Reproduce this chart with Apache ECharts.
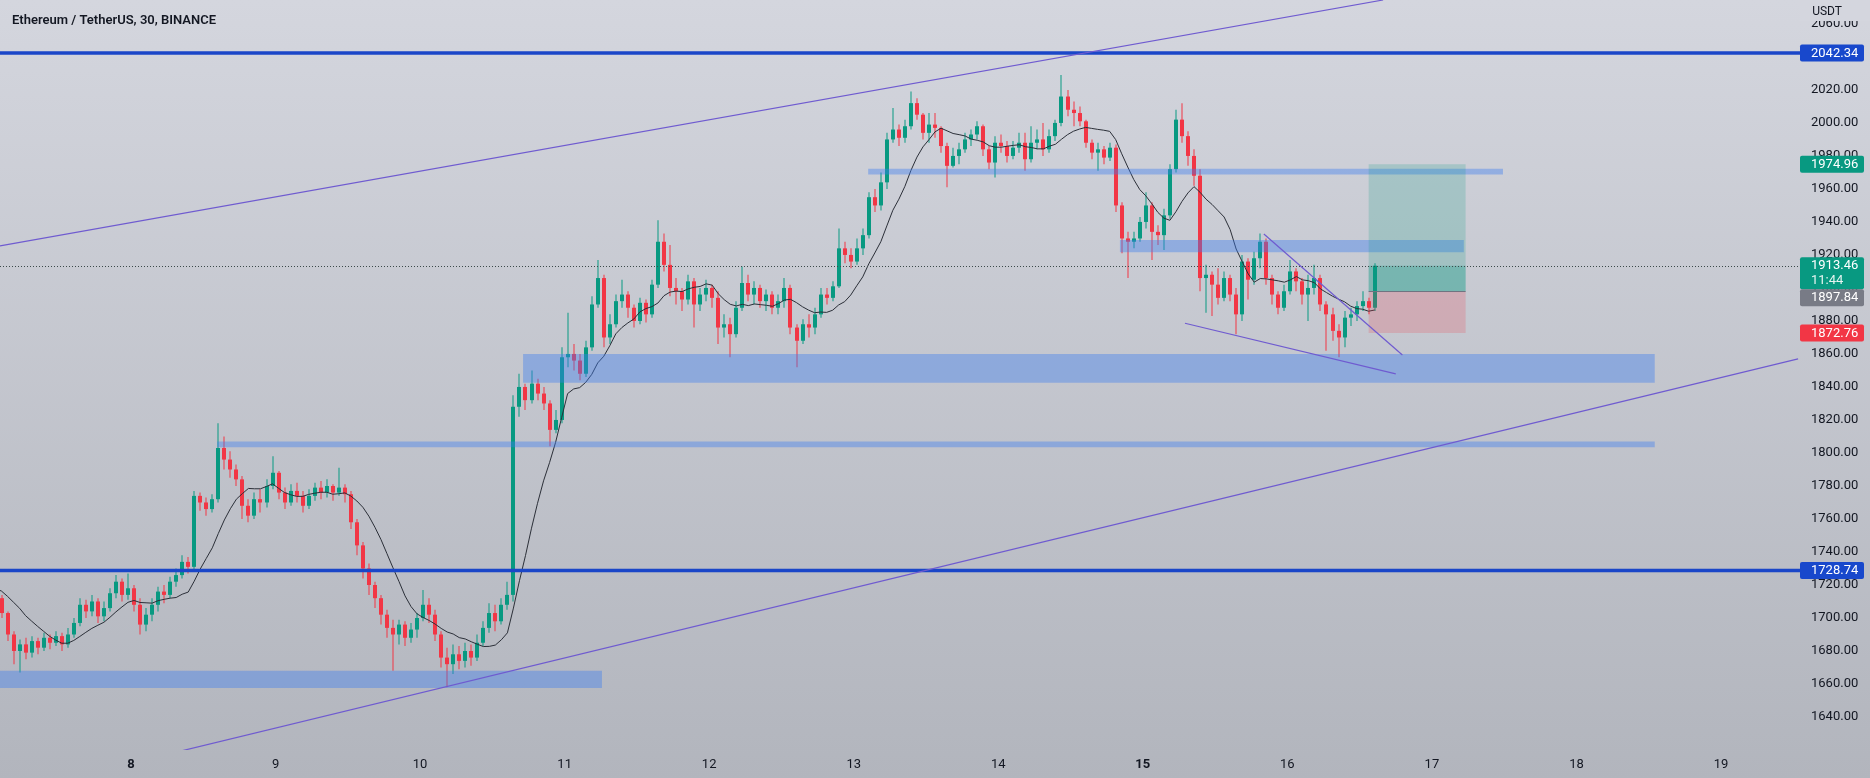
<!DOCTYPE html>
<html><head><meta charset="utf-8">
<script src="https://cdn.jsdelivr.net/npm/echarts@6/dist/echarts.min.js"></script>
<style>html,body{margin:0;padding:0;overflow:hidden;}#c{width:1870px;height:778px;}</style>
</head><body><div id="c"></div>
<script>
// ---- DATA (time = hours after the 7th, 00:00; hourly candles, open = previous close) ----
const startHour = -8;
const firstOpen = 1715;
const closes = [
1718,1722,1716,1720,1724,1719,1714,1718,1715,1712,
1703,1690,1680,1684,1679,1686,1682,1688,1685,1689,1684,1690,1697,1708,1704,1710,1701,1706,1715,1722,1714,1718,
1708,1696,1702,1708,1716,1714,1722,1726,1734,1731,1774,1770,1766,1772,1803,1796,1790,1784,1768,1762,1772,1770,1780,1788,
1776,1770,1777,1774,1768,1774,1779,1776,1780,1776,1779,1775,1758,1744,1730,1720,1712,1702,1694,1690,1696,1688,1693,1700,
1708,1702,1690,1676,1672,1678,1674,1680,1676,1685,1694,1703,1698,1708,1714,1828,1840,1832,1842,1836,1830,1814,1820,1858,
1860,1856,1848,1864,1890,1906,1870,1878,1892,1896,1888,1880,1891,1884,1902,1928,1914,1900,1898,1893,1904,1890,1896,1900,
1894,1876,1878,1872,1888,1903,1896,1900,1892,1896,1888,1892,1900,1876,1868,1878,1876,1884,1896,1894,1901,1924,1920,1916,
1924,1932,1955,1950,1964,1990,1996,1991,1998,2012,2005,1994,1999,1997,1986,1974,1980,1984,1990,1993,1998,1984,1976,1988,
1986,1980,1985,1988,1978,1988,1990,1984,1992,2000,2016,2008,2006,2001,1988,1982,1984,1979,1985,1950,1930,1928,1930,1940,
1950,1934,1932,1944,1972,2002,1992,1980,1968,1906,1908,1902,1894,1906,1896,1884,1916,1905,1918,1928,1906,1896,1888,1898,
1910,1904,1896,1900,1906,1890,1884,1874,1870,1882,1884,1889,1892,1888,1913.46
];
const highs = [
1721,1725,1724,1723,1728,1726,1721,1720,1722,1718,
1714,1704,1692,1687,1688,1689,1688,1691,1690,1692,1691,1694,1700,1712,1711,1714,1712,1710,1718,1726,1724,1727,
1720,1712,1706,1712,1719,1720,1725,1730,1738,1737,1777,1776,1773,1775,1818,1810,1801,1793,1786,1772,1776,1778,1784,1798,
1789,1779,1781,1782,1777,1778,1782,1783,1784,1781,1791,1781,1777,1760,1746,1733,1722,1714,1705,1699,1699,1698,1697,1703,
1717,1712,1705,1692,1682,1684,1683,1685,1684,1690,1698,1709,1708,1712,1722,1835,1848,1842,1850,1845,1840,1832,1826,1864,
1885,1866,1860,1868,1895,1917,1908,1884,1896,1905,1898,1890,1894,1893,1905,1941,1933,1926,1906,1900,1908,1906,1900,1905,
1902,1898,1884,1882,1892,1913,1908,1904,1902,1899,1898,1896,1906,1902,1878,1881,1884,1888,1900,1900,1904,1936,1928,1924,
1930,1936,1958,1960,1970,1994,2009,1999,2002,2019,2015,2006,2006,2006,1998,1988,1985,1988,1994,1996,2001,1999,1986,1992,
1993,1989,1989,1994,1994,1998,1996,2000,1996,2002,2029,2020,2013,2010,2002,1990,1988,1986,1988,1987,1952,1934,1934,1943,
1958,1952,1938,1948,1975,2008,2012,1995,1984,1972,1914,1910,1912,1910,1908,1900,1920,1918,1922,1933,1930,1908,1898,1902,
1917,1912,1906,1908,1914,1908,1892,1888,1878,1886,1888,1892,1898,1894,1915
];
const lows = [
1712,1715,1713,1714,1717,1716,1711,1710,1712,1708,
1700,1686,1672,1667,1675,1676,1678,1680,1681,1683,1680,1682,1688,1695,1700,1701,1697,1698,1704,1712,1710,1711,
1704,1690,1692,1698,1704,1709,1712,1719,1724,1727,1729,1765,1762,1764,1770,1790,1785,1780,1760,1758,1760,1764,1767,1778,
1772,1766,1768,1770,1764,1766,1771,1772,1773,1771,1774,1770,1754,1738,1724,1714,1706,1696,1688,1668,1684,1683,1685,1688,
1698,1697,1686,1670,1658,1666,1669,1670,1671,1674,1683,1691,1692,1696,1705,1710,1822,1826,1830,1832,1826,1804,1812,1818,
1852,1850,1844,1846,1862,1888,1864,1866,1876,1888,1882,1876,1878,1879,1882,1900,1910,1895,1890,1886,1890,1876,1886,1892,
1888,1866,1870,1858,1870,1886,1892,1890,1888,1886,1884,1884,1888,1872,1852,1866,1870,1872,1882,1890,1892,1900,1915,1912,
1914,1920,1930,1946,1947,1960,1988,1986,1988,1996,2002,1990,1988,1991,1982,1961,1973,1975,1982,1986,1990,1980,1972,1967,
1982,1976,1978,1982,1971,1976,1984,1980,1982,1989,1998,2004,1998,1998,1985,1978,1971,1975,1977,1946,1921,1906,1924,1928,
1936,1917,1926,1923,1942,1970,1988,1974,1962,1898,1885,1883,1890,1892,1892,1872,1880,1893,1902,1912,1902,1890,1884,1886,
1896,1898,1890,1880,1896,1886,1862,1868,1858,1864,1877,1880,1886,1884,1886
];
const maLength = 10;
const dayTicks = [24,48,72,96,120,144,168,192,216,240,264,288];
const dayLabels = ['8','9','10','11','12','13','14','15','16','17','18','19'];
const boldDays = ['8','15'];
const levelLines = [2042.34, 1728.74];
// zones: [fromHour, toHour, lowPrice, highPrice]
const zones = [
  [2.25, 102.2, 1657.5, 1668],
  [38.3, 277, 1803.5, 1807],
  [89.1, 277, 1842.6, 1860],
  [146.4, 251.8, 1968.8, 1972.2],
  [188.2, 245.3, 1921.6, 1929.1]
];
// trend lines: [hour1, price1, hour2, price2]
const trendLines = [
  [2.25, 1925.5, 231.9, 2074.5],
  [32.3, 1619.4, 300.8, 1857],
  [212.1, 1932.7, 235.1, 1859.4],
  [199.0, 1878.6, 234.0, 1847.9]
];
const posStart = 229.5, posEnd = 245.6;
const entryPrice = 1897.84, targetPrice = 1974.96, stopPrice = 1872.76;
const lastPrice = 1913.46;
const countdown = '11:44';
const tagValues = [2042.34, 1974.96, 1913.46, 1897.84, 1872.76, 1728.74];
const tagKinds = ['level','target','last','entry','stop','level'];
const titleText = 'Ethereum / TetherUS, 30, BINANCE';
const currencyText = 'USDT';

// ---- STYLE ----
const UP = '#089981', DOWN = '#f23645';
const FONT = 'Roboto, "Noto Sans", sans-serif';
const kindColor = {level:'#1848cc', target:'#089981', last:'#089981', entry:'#787b86', stop:'#f23645'};
const xMin = 2.25, xMax = 301.12, yMin = 1620, yMax = 2074.5;

// ---- build series data ----
const candleData = [];
closes.forEach((c, i) => {
  const t = startHour + i;
  if (t < 2) return;
  const o = i === 0 ? firstOpen : closes[i - 1];
  candleData.push([t + 0.5, o, c, lows[i], highs[i]]);
});
const maData = [];
for (let i = maLength - 1; i < closes.length; i++) {
  let s = 0;
  for (let k = i - maLength + 1; k <= i; k++) s += closes[k];
  maData.push([startHour + i + 0.5, s / maLength]);
}

function renderCandle(params, api) {
  const t = api.value(0), o = api.value(1), c = api.value(2), l = api.value(3), h = api.value(4);
  const pO = api.coord([t, o]), pC = api.coord([t, c]), pL = api.coord([t, l]), pH = api.coord([t, h]);
  const col = c >= o ? UP : DOWN;
  const x = Math.round(pO[0]);
  const top = Math.min(pO[1], pC[1]), bot = Math.max(pO[1], pC[1]);
  return {type: 'group', children: [
    {type: 'rect', shape: {x: x - 0.5, y: pH[1], width: 1, height: pL[1] - pH[1]}, style: {fill: col}},
    {type: 'rect', shape: {x: x - 2, y: top, width: 4, height: Math.max(1, bot - top)}, style: {fill: col}}
  ]};
}
function renderZone(params, api) {
  const a = api.coord([api.value(0), api.value(3)]);
  const b = api.coord([api.value(1), api.value(2)]);
  return {type: 'rect', shape: {x: a[0], y: a[1], width: b[0] - a[0], height: b[1] - a[1]},
    style: {fill: 'rgba(60,125,240,0.40)'}};
}
function renderTrend(params, api) {
  const a = api.coord([api.value(0), api.value(1)]);
  const b = api.coord([api.value(2), api.value(3)]);
  return {type: 'line', shape: {x1: a[0], y1: a[1], x2: b[0], y2: b[1]},
    style: {stroke: '#6f5bd0', lineWidth: 1.2}};
}
function renderLevel(params, api) {
  const cs = params.coordSys;
  const y = api.coord([xMin, api.value(0)])[1];
  return {type: 'line', shape: {x1: cs.x, y1: y, x2: cs.x + cs.width, y2: y},
    style: {stroke: '#1a46c8', lineWidth: 3.5}};
}
function renderPosition(params, api) {
  const s = api.value(0), e = api.value(1), en = api.value(2), tg = api.value(3), st = api.value(4), lp = api.value(5);
  const pTg = api.coord([s, tg]), pEn = api.coord([e, en]), pSt = api.coord([e, st]), pLp = api.coord([s, lp]);
  const x = pTg[0], w = pEn[0] - pTg[0];
  return {type: 'group', children: [
    {type: 'rect', shape: {x: x, y: pTg[1], width: w, height: pEn[1] - pTg[1]}, style: {fill: 'rgba(8,153,129,0.20)'}},
    {type: 'rect', shape: {x: x, y: pLp[1], width: w, height: pEn[1] - pLp[1]}, style: {fill: 'rgba(8,153,129,0.28)'}},
    {type: 'rect', shape: {x: x, y: pEn[1], width: w, height: pSt[1] - pEn[1]}, style: {fill: 'rgba(242,54,69,0.20)'}},
    {type: 'line', shape: {x1: x, y1: pEn[1], x2: x + w, y2: pEn[1]}, style: {stroke: '#6f7380', lineWidth: 1}}
  ]};
}
function renderLastLine(params, api) {
  const cs = params.coordSys;
  const y = Math.round(api.coord([xMin, api.value(0)])[1]) + 0.5;
  return {type: 'line', shape: {x1: cs.x, y1: y, x2: cs.x + cs.width, y2: y},
    style: {stroke: '#3c4a4a', lineWidth: 1, lineDash: [1, 2]}};
}
function tagLayout(api) {
  const boxes = tagValues.map((v, i) => {
    const y = api.coord([xMin, v])[1];
    const h = tagKinds[i] === 'last' ? 32 : 17;
    return {i: i, y: y, top: y - 8.5, h: h};
  });
  const sorted = boxes.slice().sort((a, b) => a.top - b.top);
  let prevBottom = -1e9;
  sorted.forEach(b => { if (b.top < prevBottom) b.top = prevBottom; prevBottom = b.top + b.h; });
  return boxes;
}
function renderTag(params, api) {
  const cs = params.coordSys;
  const box = tagLayout(api)[params.dataIndex];
  const kind = tagKinds[params.dataIndex];
  const x0 = cs.x + cs.width;
  const children = [
    {type: 'rect', shape: {x: x0, y: box.top, width: 64, height: box.h, r: 2}, style: {fill: kindColor[kind]}},
    {type: 'text', x: x0 + 11, y: box.top + 9, style: {text: api.value(0).toFixed(2), fill: '#ffffff',
      font: '13px ' + FONT, verticalAlign: 'middle', align: 'left'}}
  ];
  if (kind === 'last') {
    children.push({type: 'text', x: x0 + 11, y: box.top + 24, style: {text: countdown, fill: '#e6f4f1',
      font: '13px ' + FONT, verticalAlign: 'middle', align: 'left'}});
  }
  return {type: 'group', children: children};
}

const chart = echarts.init(document.getElementById('c'), null, {renderer: 'canvas'});
chart.setOption({
  animation: false,
  backgroundColor: {type: 'linear', x: 0, y: 0, x2: 0, y2: 1,
    colorStops: [{offset: 0, color: '#d4d6de'}, {offset: 1, color: '#b2b5bd'}]},
  title: {text: titleText, left: 7, top: 9, textStyle: {fontFamily: FONT, fontSize: 13, fontWeight: 600, color: '#131722'}},
  graphic: [
    {type: 'rect', right: 0, top: 0, z: 100, shape: {width: 70, height: 21}, style: {fill: '#d4d6de'}},
    {type: 'text', right: 28, top: 6, z: 101, style: {text: currencyText, font: '12px ' + FONT, fill: '#131722'}}
  ],
  grid: {left: 0, right: 70, top: 0, bottom: 28, containLabel: false},
  xAxis: {
    type: 'value', min: xMin, max: xMax,
    axisLine: {show: false}, axisTick: {show: false}, splitLine: {show: false},
    axisLabel: {
      customValues: dayTicks, margin: 8, color: '#131722', fontFamily: FONT, fontSize: 13,
      formatter: v => { const k = dayTicks.indexOf(v); if (k < 0) return ''; const s = dayLabels[k];
        return boldDays.indexOf(s) >= 0 ? '{b|' + s + '}' : s; },
      rich: {b: {fontWeight: 'bold', fontFamily: FONT, fontSize: 13, color: '#131722'}}
    }
  },
  yAxis: {
    type: 'value', position: 'right', min: yMin, max: yMax, interval: 20, scale: true,
    axisLine: {show: false}, axisTick: {show: false}, splitLine: {show: false},
    axisLabel: {margin: 11, color: '#131722', fontFamily: FONT, fontSize: 13, showMinLabel: false, showMaxLabel: false,
      formatter: v => (Math.abs(v % 20) < 1e-6 && v > yMin) ? v.toFixed(2) : ''}
  },
  series: [
    {type: 'custom', name: 'candles', renderItem: renderCandle, data: candleData, clip: true, z: 2,
      encode: {x: 0, y: [1, 2, 3, 4]}},
    {type: 'line', name: 'MA', data: maData, showSymbol: false, clip: true, z: 3,
      lineStyle: {color: '#2b2f38', width: 1}},
    {type: 'custom', name: 'zones', renderItem: renderZone, data: zones, clip: true, z: 4},
    {type: 'custom', name: 'position', renderItem: renderPosition,
      data: [[posStart, posEnd, entryPrice, targetPrice, stopPrice, lastPrice]], z: 4},
    {type: 'custom', name: 'levels', renderItem: renderLevel, data: levelLines.map(v => [v]), z: 5},
    {type: 'custom', name: 'trend', renderItem: renderTrend, data: trendLines, clip: true, z: 5},
    {type: 'custom', name: 'last', renderItem: renderLastLine, data: [[lastPrice]], z: 5},
    {type: 'custom', name: 'tags', renderItem: renderTag, data: tagValues.map(v => [v]), z: 10}
  ]
});
</script>
</body></html>
